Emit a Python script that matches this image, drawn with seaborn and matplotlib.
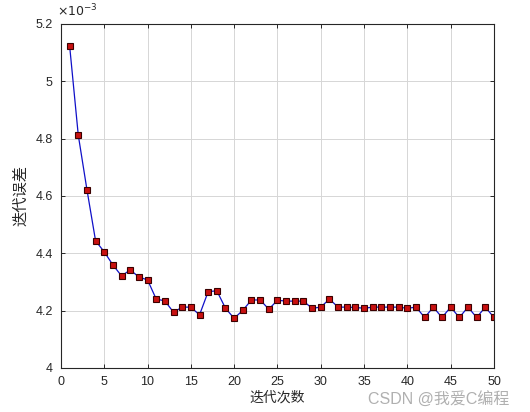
import numpy as np
import pandas as pd
import matplotlib
matplotlib.use("Agg")
import matplotlib.pyplot as plt
from matplotlib.ticker import FuncFormatter
import seaborn as sns

# ======================================================
# DATA (iteration error, x1e-3)
# ======================================================
iterations = list(range(1, 51))
error_e3 = [
    5.124, 4.812, 4.622, 4.443, 4.405, 4.359, 4.321, 4.342, 4.317, 4.307,
    4.240, 4.234, 4.194, 4.212, 4.212, 4.185, 4.266, 4.269, 4.208, 4.173,
    4.201, 4.237, 4.237, 4.205, 4.236, 4.233, 4.233, 4.233, 4.208, 4.212,
    4.240, 4.212, 4.212, 4.211, 4.208, 4.212, 4.212, 4.212, 4.212, 4.208,
    4.212, 4.176, 4.212, 4.176, 4.212, 4.176, 4.212, 4.176, 4.212, 4.176,
]
x_ticks = [0, 5, 10, 15, 20, 25, 30, 35, 40, 45, 50]
y_ticks_e3 = [4.0, 4.2, 4.4, 4.6, 4.8, 5.0, 5.2]

df = pd.DataFrame({"iter": iterations, "err": np.array(error_e3) * 1e-3})

# ======================================================
# STYLE
# ======================================================
sns.set_style("ticks")
plt.rcParams["font.family"] = ["Liberation Sans", "Noto Sans CJK SC", "DejaVu Sans"]
plt.rcParams["xtick.direction"] = "in"
plt.rcParams["ytick.direction"] = "in"
plt.rcParams["axes.unicode_minus"] = False

fig = plt.figure(figsize=(5.3, 4.12), dpi=100)
ax = fig.add_axes([0.115, 0.107, 0.817, 0.835])

sns.lineplot(
    data=df, x="iter", y="err", ax=ax,
    color="#1010c8", linewidth=0.9,
    marker="s", markersize=4.8,
    markerfacecolor="#c81010", markeredgecolor="#3a0000", markeredgewidth=0.8,
)

ax.set_xlim(0, 50)
ax.set_ylim(4.0e-3, 5.2e-3)
ax.set_xticks(x_ticks)
ax.set_yticks([v * 1e-3 for v in y_ticks_e3])
ax.yaxis.set_major_formatter(FuncFormatter(lambda v, _: f"{v * 1e3:g}"))
ax.tick_params(labelsize=9, colors="#262626", length=3, width=0.7,
               top=True, right=True, pad=6)

ax.grid(True, color="#d6d6d6", linewidth=0.7)
for s in ax.spines.values():
    s.set_linewidth(0.8)
    s.set_color("#262626")

ax.text(-0.01, 1.012, r"$\times10^{-3}$", transform=ax.transAxes,
        fontsize=9, color="#262626", ha="left", va="bottom")

ax.set_xlabel("迭代次数", family=["Noto Sans CJK SC"], fontsize=10,
              color="#262626", labelpad=2)
ax.set_ylabel("迭代误差", family=["Noto Sans CJK SC"], fontsize=11,
              color="#262626", labelpad=4)

fig.text(0.962, 0.032, "CSDN @我爱C编程", family=["Liberation Sans", "Noto Sans CJK SC"],
         fontsize=11.5, color="#b0b0b0", ha="right", va="center")

fig.savefig("out.png", dpi=100)
plt.close(fig)
